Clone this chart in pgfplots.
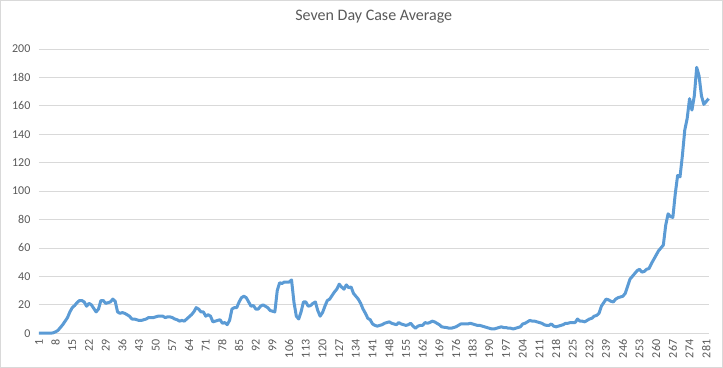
\documentclass[border=0pt]{standalone}
\usepackage{pgfplots}
\pgfplotsset{compat=1.18}
\usepackage{pgfplotstable}
\usepackage{fontspec}
\setmainfont{Carlito}
\definecolor{linecol}{HTML}{5B9BD5}
\definecolor{gridcol}{HTML}{D9D9D9}
\definecolor{textcol}{HTML}{595959}
\definecolor{bordercol}{HTML}{D9D9D9}
\pgfplotstableread{
d v
1 0
2 0
3 0
4 0
5 0
6 0
7 0.3
8 1
9 2
10 4
11 6
12 8.5
13 11
14 15
15 18
16 19.5
17 21.5
18 23
19 23
20 22
21 19
22 21
23 20
24 17.5
25 15
26 17
27 23
28 23
29 21
30 21.5
31 22
32 24
33 22.5
34 15
35 14
36 14.5
37 14
38 13
39 12
40 10
41 10
42 9.5
43 9
44 9
45 9.5
46 10
47 11
48 11
49 11
50 11.5
51 12
52 12
53 12
54 11
55 11.5
56 11.5
57 11
58 10
59 9.5
60 8.5
61 9
62 8.5
63 10
64 11.5
65 13
66 15
67 18
68 17
69 15
70 15
71 12
72 13
73 12
74 8
75 8.5
76 9
77 9.5
78 7
79 7.5
80 6
81 9
82 17
83 18
84 18
85 22
86 25
87 26
88 25
89 22
90 19
91 19.5
92 17
93 17
94 19
95 20
96 19
97 18
98 16
99 15.5
100 15
101 30
102 35.5
103 35
104 36
105 36
106 36
107 37.5
108 22
109 12
110 10
111 15
112 22
113 22
114 19
115 19.5
116 21
117 22
118 16
119 12
120 14.5
121 19
122 23
123 24
124 26.5
125 29
126 31
127 34.5
128 32.5
129 31
130 34
131 32
132 32.5
133 28
134 26
135 24
136 21
137 17
138 14
139 10.5
140 9.5
141 6.5
142 5.5
143 5
144 5.5
145 6
146 7
147 7.5
148 8
149 7
150 6.5
151 6
152 7.5
153 6.5
154 6
155 5.5
156 6
157 7
158 5
159 3.5
160 5
161 5.5
162 5.5
163 7.5
164 7
165 7.5
166 8.5
167 8
168 7
169 6
170 4.5
171 4.2
172 4
173 3.6
174 3.5
175 4
176 4.5
177 5.5
178 6.5
179 6.5
180 6.5
181 6.5
182 7
183 6.5
184 6
185 5.5
186 5.5
187 5
188 4.5
189 4
190 3.5
191 3
192 3
193 3.5
194 4
195 4.5
196 4
197 4
198 3.5
199 3.5
200 3
201 3.5
202 4
203 4.5
204 6.5
205 7
206 8
207 9
208 8.5
209 8.5
210 8
211 7.5
212 7
213 6
214 5.5
215 5.5
216 6.5
217 5
218 4.5
219 5
220 5.5
221 6
222 7
223 7
224 7.5
225 7.5
226 7.5
227 10
228 8.5
229 8.5
230 8
231 9
232 10
233 10.5
234 12
235 12.5
236 14
237 19
238 21.5
239 24
240 23.5
241 22.5
242 22
243 24
244 25
245 25.5
246 26
247 28
248 33
249 38
250 40
251 42
252 44
253 45
254 43
255 43.5
256 45
257 45.5
258 49
259 52
260 55
261 58
262 60
263 62
264 76
265 84
266 82
267 81.5
268 98
269 111
270 110
271 125
272 143
273 151
274 165
275 157
276 167
277 187
278 181
279 167
280 161
281 163
282 165
}\datatable
\begin{document}
\begin{tikzpicture}
\begin{axis}[
  name=ax,
  scale only axis,
  width=669bp, height=284bp,
  xmin=1, xmax=282,
  ymin=0, ymax=200,
  ytick={0,20,...,200},
  xtick={1,8,...,281},
  ymajorgrids,
  grid style={gridcol, line width=0.75pt},
  axis line style={draw=none},
  axis x line*=bottom,
  axis y line*=left,
  major tick length=0pt,
  tick style={draw=none},
  ticklabel style={font=\fontsize{12bp}{14bp}\selectfont, text=textcol},
  /pgf/number format/assume math mode=true,
  yticklabel style={xshift=-5bp},
  xticklabel style={rotate=90, anchor=east, xshift=-3bp},
  clip=false,
]
\addplot[linecol, line width=3bp, line join=round, no marks] table[x=d,y=v] {\datatable};
\end{axis}
\node[font=\fontsize{16bp}{18bp}\selectfont, text=textcol] at ([yshift=32bp]ax.north) {Seven Day Case Average};
\pgfresetboundingbox
\draw[bordercol, line width=0.75pt] ([xshift=-38.5bp,yshift=-34bp]ax.south west) rectangle ([xshift=14bp,yshift=48.5bp]ax.north east);
\end{tikzpicture}
\end{document}
